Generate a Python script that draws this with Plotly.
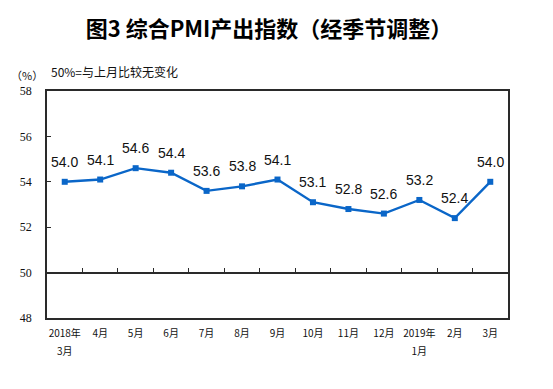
import plotly.graph_objects as go

month_line1 = ["2018年", "4月", "5月", "6月", "7月", "8月", "9月", "10月", "11月", "12月", "2019年", "2月", "3月"]
month_line2 = ["3月", "", "", "", "", "", "", "", "", "", "1月", "", ""]
values = [54.0, 54.1, 54.6, 54.4, 53.6, 53.8, 54.1, 53.1, 52.8, 52.6, 53.2, 52.4, 54.0]
title_text = "图3 综合PMI产出指数（经季节调整）"
note_text = "50%=与上月比较无变化"
unit_text = "（%）"

W, H = 553, 389
OFF = 8  # page body margin offset
L, R, T, B = 47 - OFF, 45 + OFF, 91 - OFF, 71 + OFF
PW, PH = W - L - R, H - T - B
idx = list(range(len(values)))
blue = "#0a66c8"

fig = go.Figure()
fig.add_trace(go.Scatter(
    x=idx, y=values, mode="lines+markers",
    line=dict(color=blue, width=2.4),
    marker=dict(symbol="square", size=6, color=blue),
    cliponaxis=False, showlegend=False, hoverinfo="skip",
))
# invisible traces anchoring extra axes
fig.add_trace(go.Scatter(x=idx, y=values, xaxis="x2", mode="lines", opacity=0,
                         line=dict(width=0), hoverinfo="skip", showlegend=False))
fig.add_trace(go.Scatter(x=idx, y=values, xaxis="x3", mode="lines", opacity=0,
                         line=dict(width=0), hoverinfo="skip", showlegend=False))

axis_col = "#2a2a2a"
tickfont_x = dict(family="Noto Sans CJK SC", size=10, color="#111111")
rng = [-0.5, len(values) - 0.5]

annotations = [
    dict(x=i, y=v, xref="x", yref="y", text=f"{v:.1f}", showarrow=False,
         yshift=20, xanchor="center", yanchor="middle",
         font=dict(family="Liberation Sans, Arial", size=14, color="#111111"))
    for i, v in zip(idx, values)
]
annotations += [
    dict(text=unit_text, xref="paper", yref="paper", x=-20 / PW, y=1 + 16 / PH,
         xanchor="center", yanchor="middle", showarrow=False,
         font=dict(family="Noto Sans CJK SC", size=11, color="#111111")),
    dict(text=note_text, xref="paper", yref="paper", x=2 / PW, y=1 + 20 / PH,
         xanchor="left", yanchor="middle", showarrow=False,
         font=dict(family="Noto Sans CJK SC", size=12, color="#111111")),
]

fig.update_layout(
    width=W, height=H,
    margin=dict(l=L, r=R, t=T, b=B),
    paper_bgcolor="white", plot_bgcolor="white",
    title=dict(text=title_text, x=(269 - OFF) / W, xanchor="center", y=1 - (29 - OFF) / H,
               yanchor="middle",
               font=dict(family="Noto Sans CJK SC", size=22, color="#000000", weight="bold")),
    xaxis=dict(range=rng, tickmode="array", tickvals=idx, ticktext=month_line1,
               showline=True, mirror=True, linecolor=axis_col, linewidth=1.5, ticks="",
               showgrid=False, zeroline=False, tickfont=tickfont_x, ticklabelstandoff=5),
    xaxis2=dict(range=rng, overlaying="x", anchor="free", position=0.2, side="bottom",
                showline=True, linecolor=axis_col, linewidth=1.5,
                ticks="inside", ticklen=4, tickwidth=1.3, tickcolor=axis_col,
                tickmode="array", tickvals=[i + 0.5 for i in idx[:-1]],
                showticklabels=False, showgrid=False, zeroline=False),
    xaxis3=dict(range=rng, overlaying="x", anchor="y", side="bottom", showline=False,
                tickmode="array", tickvals=idx, ticktext=month_line2, ticks="",
                showgrid=False, zeroline=False, tickfont=tickfont_x, ticklabelstandoff=26),
    yaxis=dict(range=[48, 58], dtick=2, showline=True, mirror=True, linecolor=axis_col,
               linewidth=1.5, ticks="inside", ticklen=4, tickwidth=1.3, tickcolor=axis_col,
               showgrid=False, zeroline=False, ticklabelstandoff=11,
               tickfont=dict(family="Liberation Serif, Times New Roman", size=12, color="#111111")),
    annotations=annotations,
)

fig.write_html("out.html")
